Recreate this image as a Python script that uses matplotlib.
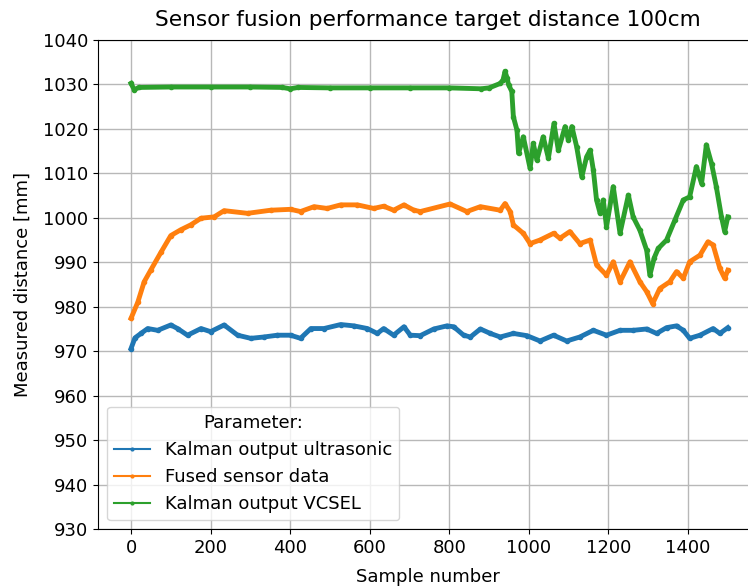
import matplotlib
matplotlib.use("Agg")
import matplotlib.pyplot as plt
import numpy as np

# sample numbers / measured distance [mm]
us_x = [0, 10, 25, 42, 67, 100, 117, 142, 176, 200, 234, 268, 301, 334, 368, 401, 426, 452,
        485, 527, 560, 594, 619, 635, 660, 686, 702, 727, 761, 794, 811, 836, 853, 878, 903,
        928, 961, 995, 1028, 1062, 1095, 1128, 1162, 1195, 1229, 1262, 1296, 1321, 1346,
        1371, 1388, 1404, 1430, 1463, 1480, 1500]
us_y = [970.6, 973.0, 974.0, 975.1, 974.7, 975.9, 975.1, 973.6, 975.1, 974.4, 975.9, 973.6,
        972.9, 973.2, 973.6, 973.6, 972.9, 975.1, 975.1, 976.0, 975.7, 975.1, 974.0, 975.1,
        973.6, 975.5, 973.6, 973.5, 975.0, 975.7, 975.5, 973.6, 973.2, 975.0, 974.0, 973.2,
        974.0, 973.5, 972.3, 973.6, 972.3, 973.2, 974.7, 973.6, 974.7, 974.7, 975.0, 974.0,
        975.3, 975.7, 974.7, 972.9, 973.6, 975.1, 974.0, 975.3]

fused_x = [0, 17, 33, 50, 75, 100, 125, 150, 176, 209, 234, 293, 351, 401, 426, 460, 493, 527,
           569, 610, 635, 660, 686, 711, 727, 802, 844, 878, 928, 940, 953, 961, 986, 1003,
           1028, 1062, 1078, 1103, 1128, 1154, 1170, 1195, 1212, 1229, 1254, 1279, 1296,
           1311, 1329, 1354, 1371, 1388, 1404, 1430, 1450, 1463, 1480, 1492, 1500]
fused_y = [977.4, 981.0, 985.6, 988.3, 992.2, 996.0, 997.3, 998.4, 999.9, 1000.2, 1001.6,
           1001.0, 1001.7, 1001.9, 1001.4, 1002.5, 1002.1, 1002.9, 1002.9, 1002.1, 1002.6,
           1001.7, 1002.9, 1001.7, 1001.4, 1003.1, 1001.4, 1002.5, 1001.7, 1003.2, 1001.4,
           998.4, 996.5, 994.2, 995.0, 996.5, 995.4, 996.9, 994.2, 995.0, 989.4, 987.1,
           990.1, 985.6, 990.1, 985.6, 983.4, 980.7, 984.1, 985.6, 987.9, 986.4, 990.1,
           991.6, 994.6, 993.9, 988.6, 986.4, 988.2]

vcsel_x = [0, 8, 20, 100, 200, 300, 380, 400, 420, 500, 600, 700, 800, 880, 900, 928, 935,
           940, 945, 949, 957, 961, 970, 974, 986, 1003, 1011, 1020, 1036, 1049, 1063, 1074,
           1091, 1099, 1108, 1120, 1133, 1145, 1154, 1162, 1170, 1179, 1187, 1195, 1212,
           1229, 1250, 1262, 1279, 1296, 1304, 1315, 1325, 1346, 1367, 1388, 1404, 1421,
           1434, 1446, 1459, 1471, 1484, 1492, 1500]
vcsel_y = [1030.2, 1028.8, 1029.3, 1029.4, 1029.4, 1029.4, 1029.3, 1029.0, 1029.3, 1029.2,
           1029.2, 1029.2, 1029.2, 1029.0, 1029.2, 1030.2, 1031.0, 1032.9, 1031.5, 1029.9,
           1028.4, 1022.7, 1019.7, 1014.5, 1018.2, 1011.1, 1016.7, 1013.0, 1018.2, 1013.4,
           1021.2, 1015.2, 1020.5, 1017.5, 1020.5, 1016.0, 1009.2, 1013.7, 1015.2, 1010.7,
           1004.0, 1001.0, 1004.0, 998.0, 1007.0, 996.5, 1005.1, 1000.2, 997.2, 992.7,
           987.1, 991.0, 993.1, 995.0, 999.5, 1004.0, 1004.7, 1011.5, 1007.7, 1016.4,
           1012.2, 1007.0, 1000.2, 996.9, 1000.2]

labels = ["Kalman output ultrasonic", "Fused sensor data", "Kalman output VCSEL"]

plt.rcParams["font.size"] = 13

fig = plt.figure(figsize=(7.48, 5.86), dpi=100)
# axes runs past the right edge like the cropped original
ax = fig.add_axes([0.131, 0.097, 0.883, 0.835])

ax.plot(us_x, us_y, marker=".", ms=6, lw=3.5, label=labels[0])
ax.plot(fused_x, fused_y, marker=".", ms=6, lw=3.5, label=labels[1])
ax.plot(vcsel_x, vcsel_y, marker=".", ms=6, lw=3.5, label=labels[2])

ax.set_xlim(-83, 1577)
ax.set_ylim(930, 1040)
ax.set_yticks(np.arange(930, 1041, 10))
ax.set_title("Sensor fusion performance target distance 100cm", pad=10)
ax.set_xlabel("Sample number", labelpad=8)
ax.set_ylabel("Measured distance [mm]", labelpad=8)
ax.grid(True, color="#b8b8b8", lw=1)

leg = ax.legend(title="Parameter:", loc="lower left")
for ln in leg.get_lines():
    ln.set_linewidth(1.5)
    ln.set_markersize(4)

fig.savefig("out.png", dpi=100)
